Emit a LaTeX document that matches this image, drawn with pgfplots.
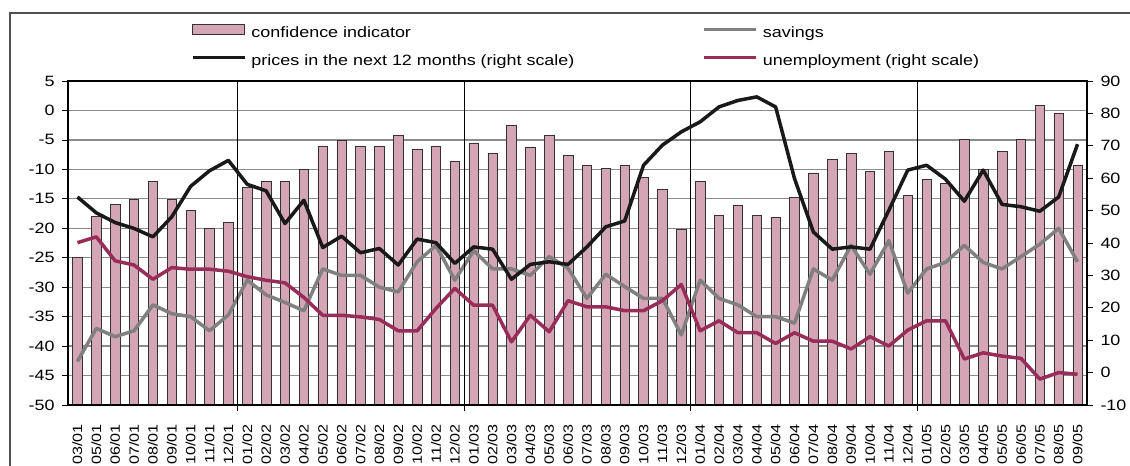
\documentclass[border=0pt]{standalone}
\usepackage{fontspec}
\setmainfont[FakeStretch=1.2]{Liberation Sans}
\usepackage{pgfplots}
\usepackage{pgfplotstable}
\pgfplotsset{compat=1.18}
\definecolor{barpink}{RGB}{212,165,180}
\definecolor{unemp}{RGB}{153,45,90}
\definecolor{savgray}{RGB}{128,128,128}
\definecolor{gridgray}{RGB}{140,140,140}
\definecolor{framegray}{RGB}{80,80,80}

\pgfplotstableread{
x conf sav prices unemp
0 -25 -42.6 54.2 40.1
1 -18 -37 49.3 41.9
2 -16 -38.4 46.3 34.5
3 -15 -37.4 44.5 33.2
4 -12 -33 41.9 28.8
5 -15 -34.5 48.1 32.4
6 -17 -35 57.5 31.9
7 -20 -37.4 62.3 31.9
8 -19 -34.7 65.5 31.3
9 -13 -28.8 58.1 29.6
10 -12 -31.3 56.1 28.5
11 -12 -32.6 46 27.7
12 -10 -34 53.2 23.2
13 -6 -26.9 38.6 17.7
14 -5 -28 42.1 17.7
15 -6 -28 37 17.2
16 -6 -30 38.3 16.4
17 -4.2 -30.8 33.2 12.9
18 -6.6 -25.7 41.2 12.9
19 -6 -22.9 40.1 19.8
20 -8.6 -28.8 33.7 26
21 -5.5 -23.8 38.8 20.8
22 -7.3 -26.9 38.1 20.8
23 -2.5 -26.9 28.8 9.5
24 -6.2 -28 33.4 17.7
25 -4.2 -24.8 34.2 12.6
26 -7.6 -26.8 33.4 22.2
27 -9.3 -31.9 38.8 20.3
28 -9.9 -27.8 45 20.3
29 -9.3 -29.9 46.8 19.1
30 -11.3 -31.9 64 19.1
31 -13.4 -31.9 70.2 22.2
32 -20.1 -38.1 74.3 27.2
33 -12 -28.8 77.4 12.9
34 -17.8 -31.9 82 16
35 -16.1 -33 84 12.3
36 -17.8 -35 85.1 12.3
37 -18.1 -35 82 9
38 -14.7 -36.1 59.9 12.3
39 -10.6 -26.9 43.4 9.7
40 -8.3 -28.8 38.1 9.7
41 -7.3 -22.9 38.8 7.3
42 -10.3 -27.8 38.1 11.1
43 -6.9 -22.1 50.1 8.2
44 -14.4 -31 62.5 13.1
45 -11.7 -26.9 64 16
46 -12.3 -25.8 59.7 16
47 -4.9 -22.9 52.9 4.2
48 -10 -25.8 62.5 6.1
49 -6.9 -26.9 51.9 5.1
50 -4.9 -24.8 51.2 4.4
51 0.9 -22.7 49.8 -2
52 -0.5 -20 54.2 0
53 -9.3 -25.7 70.5 -0.5
}\chartdata

\begin{document}
\begin{tikzpicture}
\useasboundingbox (0,0) rectangle (1130bp,466bp);
\draw[line width=1.5bp, framegray] (10bp,0bp) -- (10bp,453bp) -- (1130bp,453bp);
\begin{axis}[
  at={(68bp,61bp)}, anchor=south west,
  scale only axis, width=1019bp, height=324bp,
  xmin=-0.5, xmax=53.5, ymin=-50, ymax=5,
  y coord trafo/.code={\pgfmathparse{#1+50}},
  y coord inv trafo/.code={\pgfmathparse{#1-50}},
  ytick={-50,-45,-40,-35,-30,-25,-20,-15,-10,-5,0,5},
  ytick pos=left,
  xtick={0,...,53},
  xticklabels={03/01,05/01,06/01,07/01,08/01,09/01,10/01,11/01,12/01,
    01/02,02/02,03/02,04/02,05/02,06/02,07/02,08/02,09/02,10/02,11/02,12/02,
    01/03,02/03,03/03,04/03,05/03,06/03,07/03,08/03,09/03,10/03,11/03,12/03,
    01/04,02/04,03/04,04/04,05/04,06/04,07/04,08/04,09/04,10/04,11/04,12/04,
    01/05,02/05,03/05,04/05,05/05,06/05,07/05,08/05,09/05},
  x tick style={draw=none},
  x tick label style={rotate=90, anchor=east, inner xsep=13bp, font=\fontsize{13.5}{15}\selectfont},
  y tick label style={font=\fontsize{15}{17}\selectfont, xshift=-4bp},
  /pgf/number format/assume math mode=true,
  tick align=outside, major tick length=6bp,
  y tick style={black, line width=0.8bp},
  axis line style={black, line width=1.3bp},
  ymajorgrids, major grid style={gridgray, line width=1.2bp},
  legend columns=2, legend cell align=left,
  legend style={draw=none, fill=none, inner sep=0pt, outer sep=0pt,
    at={(axis description cs:0.1207,1.176)}, anchor=north west,
    row sep=14bp,
    nodes={inner sep=0pt, text height=11bp, text depth=3bp, font=\fontsize{15}{17}\selectfont},
    /tikz/every odd column/.append style={column sep=5bp},
    /tikz/every even column/.append style={column sep=128bp}},
]
\addplot[ybar, bar width=9.5bp, fill=barpink, draw=black!80, line width=0.6bp,
  legend image code/.code={\draw[fill=barpink, draw=black!80, line width=0.6bp] (0bp,-1bp) rectangle (52bp,9bp);}]
  table[x=x, y=conf]{\chartdata};
\addlegendentry{confidence indicator}
\addplot[savgray, line width=3.5bp, line join=round, mark=none,
  legend image code/.code={\draw[savgray, line width=3.5bp] (0bp,4bp) -- (52bp,4bp);}]
  table[x=x, y=sav]{\chartdata};
\addlegendentry{savings}
\addlegendimage{legend image code/.code={\draw[black!90, line width=3.5bp] (0bp,4bp) -- (52bp,4bp);}}
\addlegendentry{prices in the next 12 months (right scale)}
\addlegendimage{legend image code/.code={\draw[unemp, line width=3.5bp] (0bp,4bp) -- (52bp,4bp);}}
\addlegendentry{unemployment (right scale)}
\end{axis}
\begin{axis}[
  at={(68bp,61bp)}, anchor=south west,
  scale only axis, width=1019bp, height=324bp,
  xmin=-0.5, xmax=53.5, ymin=-10, ymax=90,
  axis y line*=right, axis x line*=bottom,
  ytick={-10,0,...,90},
  xtick={8.5,20.5,32.5,44.5}, xticklabels={},
  xmajorgrids, major grid style={black, line width=0.8bp},
  tick align=outside, major tick length=6bp,
  tick style={black, line width=0.8bp},
  y tick label style={font=\fontsize{15}{17}\selectfont, xshift=4bp},
  /pgf/number format/assume math mode=true,
  axis line style={black, line width=1.3bp},
]
\addplot[black!90, line width=3.5bp, line join=round, mark=none] table[x=x, y=prices]{\chartdata};
\addplot[unemp, line width=3.5bp, line join=round, mark=none] table[x=x, y=unemp]{\chartdata};
\end{axis}
\end{tikzpicture}
\end{document}
